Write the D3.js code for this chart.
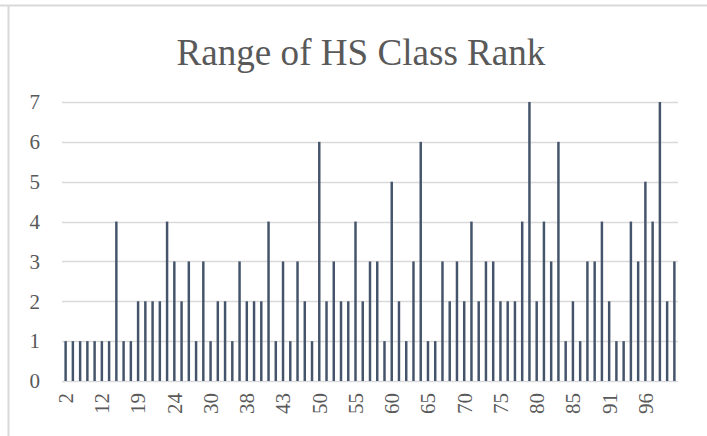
<!DOCTYPE html>
<html>
<head>
<meta charset="utf-8">
<script src="https://cdn.jsdelivr.net/npm/d3@7"></script>
<style>
  html, body { margin: 0; padding: 0; background: #ffffff; }
  svg { display: block; }
</style>
</head>
<body>
<svg id="chart" width="707" height="436"></svg>
<script>
// ---- Data ----
const title = "Range of HS Class Rank";
const categories = [
  "2","4","6","8","10","12","14","15","17","18",
  "19","20","21","22","23","24","25","26","27","29",
  "30","31","33","35","37","38","39","40","41","42",
  "43","44","46","47","49","50","51","52","53","54",
  "55","56","57","58","59","60","61","62","63","64",
  "65","66","67","68","69","70","71","72","73","74",
  "75","76","77","78","79","80","81","82","83","84",
  "85","86","87","88","90","91","92","93","94","95",
  "96","97","98","99","100"
];
const values = [
  1,1,1,1,1,1,1,4,1,1,
  2,2,2,2,4,3,2,3,1,3,
  1,2,2,1,3,2,2,2,4,1,
  3,1,3,2,1,6,2,3,2,2,
  4,2,3,3,1,5,2,1,3,6,
  1,1,3,2,3,2,4,2,3,3,
  2,2,2,4,7,2,4,3,6,1,
  2,1,3,3,4,2,1,1,4,3,
  5,4,7,2,3
];
const yTicks = [0,1,2,3,4,5,6,7];
const labelEvery = 5;

// ---- Layout ----
const W = 707, H = 436;
const plot = { left: 62, right: 678, top: 102, bottom: 381 };
const serif = "'Liberation Serif', 'DejaVu Serif', serif";
const textColor = "#595959";
const gridColor = "#d9d9d9";
const barColor = "#44546a";

const svg = d3.select("#chart");
svg.append("rect").attr("width", W).attr("height", H).attr("fill", "#fff");

// outer frame fragments (top and left border)
svg.append("line").attr("x1", 0).attr("x2", W).attr("y1", 5.5).attr("y2", 5.5)
  .attr("stroke", gridColor).attr("stroke-width", 2);
svg.append("line").attr("x1", 8.5).attr("x2", 8.5).attr("y1", 5.5).attr("y2", H)
  .attr("stroke", gridColor).attr("stroke-width", 2);

const x = d3.scaleBand().domain(categories).range([plot.left, plot.right]).paddingInner(0.66).paddingOuter(0.33);
const y = d3.scaleLinear().domain([0, 7]).range([plot.bottom, plot.top]);

// gridlines
svg.append("g").selectAll("line").data(yTicks).join("line")
  .attr("x1", plot.left).attr("x2", plot.right)
  .attr("y1", d => Math.round(y(d)) + 0.5).attr("y2", d => Math.round(y(d)) + 0.5)
  .attr("stroke", gridColor).attr("stroke-width", 1.5);

// bars
svg.append("g").selectAll("rect").data(values).join("rect")
  .attr("x", (d, i) => x(categories[i]))
  .attr("width", x.bandwidth())
  .attr("y", d => y(d))
  .attr("height", d => y(0) - y(d))
  .attr("fill", barColor);

// y axis labels
const yAxis = d3.axisLeft(y).tickValues(yTicks).tickSize(0).tickPadding(0).tickFormat(d3.format("d"));
const gy = svg.append("g").attr("transform", `translate(40,0)`).call(yAxis);
gy.select(".domain").remove();
gy.selectAll("text").attr("font-family", serif).attr("font-size", 21).attr("fill", textColor);

// x axis labels
const xAxis = d3.axisBottom(x).tickValues(categories.filter((c, i) => i % labelEvery === 0)).tickSize(0).tickPadding(0);
const gx = svg.append("g").attr("transform", `translate(0,${plot.bottom})`).call(xAxis);
gx.select(".domain").remove();
gx.selectAll("text")
  .attr("font-family", serif).attr("font-size", 21).attr("fill", textColor)
  .attr("text-anchor", "end")
  .attr("transform", "translate(0,12) rotate(-90)")
  .attr("x", 0).attr("y", 0).attr("dy", "0.35em");

// title
const t = svg.append("text").attr("x", 361).attr("y", 65)
  .attr("text-anchor", "middle").attr("font-family", serif).attr("font-size", 34)
  .attr("fill", textColor).text(title);
const tw = t.node().getComputedTextLength();
t.attr("font-size", 34 * 369 / tw);
</script>
</body>
</html>
